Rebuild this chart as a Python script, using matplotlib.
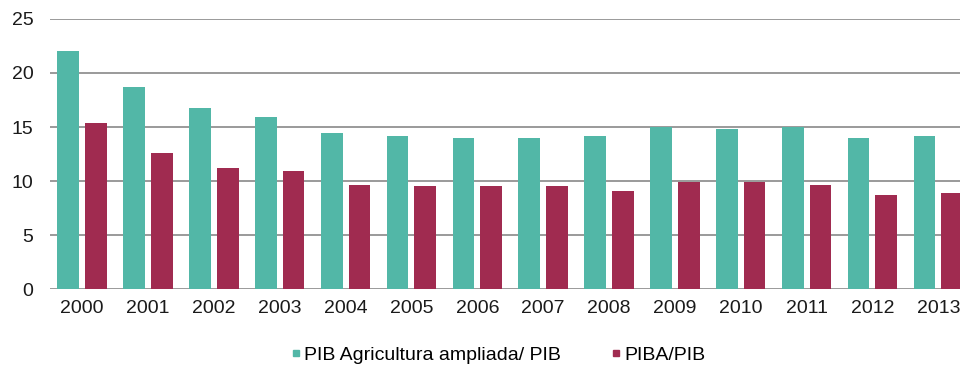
import numpy as np
import matplotlib
matplotlib.use("Agg")
import matplotlib.pyplot as plt
from matplotlib.lines import Line2D

plt.rcParams['font.family'] = ['Liberation Sans', 'DejaVu Sans']

years = ['2000', '2001', '2002', '2003', '2004', '2005', '2006',
         '2007', '2008', '2009', '2010', '2011', '2012', '2013']
pib_ampliada = [22.0, 18.7, 16.8, 15.9, 14.4, 14.2, 14.0,
                14.0, 14.2, 15.0, 14.8, 15.0, 14.0, 14.2]
piba = [15.4, 12.6, 11.2, 10.9, 9.6, 9.5, 9.5,
        9.5, 9.1, 9.9, 9.9, 9.6, 8.7, 8.9]
labels = ['PIB Agricultura ampliada/ PIB', 'PIBA/PIB']
colors = ['#52b7a7', '#a02b50']

fig = plt.figure(figsize=(9.6, 3.72), dpi=100)
ax = fig.add_axes([0.052, 0.223, 0.948, 0.726])

x = np.arange(len(years))
w = 0.33
ax.bar(x - 0.21, pib_ampliada, w, color=colors[0], zorder=3)
ax.bar(x + 0.21, piba, w, color=colors[1], zorder=3)

ax.set_ylim(0, 25)
ax.set_xlim(-0.49, 13.33)
ax.set_yticks([0, 5, 10, 15, 20, 25])
ax.yaxis.grid(True, color='#9a9a9a', linewidth=1.4, zorder=1)
ax.set_xticks(x)
ax.set_xticklabels(years)
ax.tick_params(axis='both', length=0, labelsize=14, colors='#1a1a1a')
ax.tick_params(axis='y', pad=12)
ax.tick_params(axis='x', pad=8)
for s in ax.spines.values():
    s.set_visible(False)

handles = [Line2D([], [], marker='s', linestyle='none', markersize=5,
                  color=c) for c in colors]
fig.legend(handles, labels, loc='lower center', bbox_to_anchor=(0.519, -0.025),
           ncol=2, frameon=False, fontsize=14, handlelength=0.5,
           handletextpad=0.15, columnspacing=2.6)

fig.savefig('out.png', dpi=100)
